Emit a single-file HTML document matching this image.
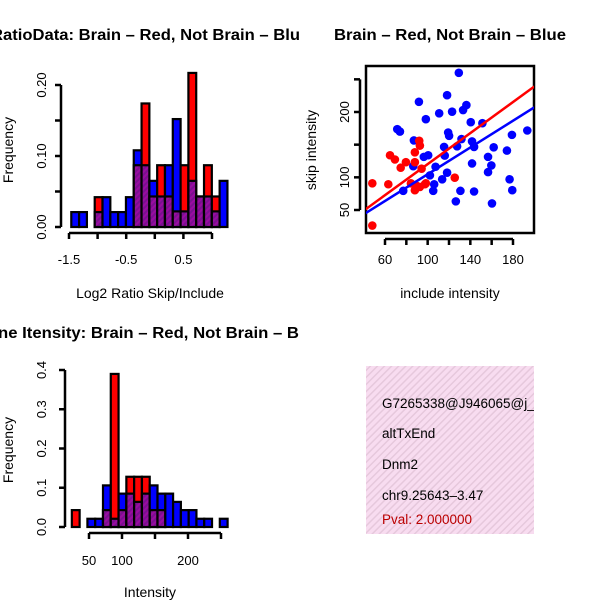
<!DOCTYPE html>
<html><head><meta charset="utf-8"><style>
html,body{margin:0;padding:0;background:#fff}
svg{display:block;font-family:"Liberation Sans",sans-serif}
</style></head><body>
<svg id="c" width="600" height="600" viewBox="0 0 600 600">
<defs>
<pattern id="hatch" width="4" height="4" patternUnits="userSpaceOnUse" patternTransform="rotate(45)">
<rect width="4" height="4" fill="#9a0ca0"/><rect width="2" height="4" fill="#7a1090"/>
</pattern>
<pattern id="pink" width="5" height="5" patternUnits="userSpaceOnUse" patternTransform="rotate(45)">
<rect width="5" height="5" fill="#f8dcf0"/><rect width="1.5" height="5" fill="#e6c8dc"/>
</pattern>
<clipPath id="clipS"><rect x="366" y="66" width="168" height="167"/></clipPath>
</defs>
<g id="root"></g>
</svg>
<script>
// ---- Panel 1: log2 ratio histogram ----
const ratioBinStart = -1.46;
const ratioBinWidth = 0.1365;
const ratioRed  = [0,0,0,0.042,0,0,0,0,0.087,0.174,0.043,0.087,0.043,0.022,0.087,0.217,0.043,0.087,0.043,0];
const ratioBlue = [0.021,0.021,0,0.021,0.042,0.021,0.021,0.042,0.108,0.087,0.065,0.043,0.087,0.152,0.022,0.065,0.043,0.043,0.022,0.065];
const ratioXTicks = [-1.5,-1.0,-0.5,0,0.5,1.0];
const ratioXLabels = ["-1.5","","-0.5","","0.5",""];
const ratioYTicks = [0,0.05,0.10,0.15,0.20];
const ratioYLabels = ["0.00","","0.10","","0.20"];
// ---- Panel 2: scatter ----
const blueX = [129.2,118.2,91.8,136.3,133.2,122.9,110.8,98.3,140.4,151.3,71.5,74,119.2,120.1,193.4,179,87.1,131.7,141.6,143.5,115.4,127.6,161.9,174.3,100.5,96.4,116,156.6,141.6,159.7,107.4,86.5,156.6,118.2,102.1,113.6,176.8,106.1,105.2,77.1,130.7,143.5,179.3,126.4,160.3];
const blueY = [260,225.7,215.6,210.6,203,200.5,198,189,184.4,182.9,173.8,170,168.6,163.6,171.7,165,156.5,158.6,155,146.5,146.5,147.5,146,140.9,133.8,131.3,133.3,131.3,121.2,118.2,116.2,117.1,108,107.1,103,97,97,89.4,79.3,79.3,79.3,78.3,80.3,63.2,60.1];
const redX = [48.1,48.1,63.1,64.7,69.3,74.7,79.6,92.1,92.7,88,88,94.3,84.3,89,92.7,97.4,88,125.4,98.3];
const redY = [90.9,26.2,89.4,133.8,127.3,114.7,123.2,156,148.5,138.3,123.2,113.2,90.9,87.9,85.3,89.4,80.3,99.5,90.9];
const fitRed = [1.4,1.188];   // intercept, slope
const fitBlue = [2.3,1.024];
const scXTicks = [50,60,80,100,120,140,160,180];
const scXLabels = ["","60","","100","","140","","180"];
const scYTicks = [50,100,150,200,250];
const scYLabels = ["50","100","","200",""];
// ---- Panel 3: intensity histogram ----
const intBinStart = 24;
const intBinWidth = 11.8;
const intRed  = [0.043,0,0,0,0.043,0.39,0.043,0.128,0.128,0.128,0.043,0.043,0,0,0,0,0,0,0,0];
const intBlue = [0,0,0.021,0.021,0.106,0.021,0.085,0.085,0.064,0.085,0.106,0.085,0.085,0.064,0.043,0.043,0.021,0.021,0,0.021];
const intXTicks = [50,100,150,200,250];
const intXLabels = ["50","100","","200",""];
const intYTicks = [0,0.1,0.2,0.3,0.4];
const intYLabels = ["0.0","0.1","0.2","0.3","0.4"];

const NS="http://www.w3.org/2000/svg";
const root=document.getElementById('root');
function mk(tag,attrs,parent,text){const e=document.createElementNS(NS,tag);for(const k in attrs)e.setAttribute(k,attrs[k]);if(text!==undefined)e.textContent=text;(parent||root).appendChild(e);return e;}
function lin(d0,d1,r0,r1){return v=>r0+(v-d0)*(r1-r0)/(d1-d0);}

function histogram(name,bx0,bw,reds,blues,xs,ys){
  const g=mk('g',{});
  
  
  for(let i=0;i<reds.length;i++){
    const r=reds[i],b=blues[i];
    const x0=xs(bx0+i*bw),x1=xs(bx0+(i+1)*bw);
    const mx=Math.max(r,b),mn=Math.min(r,b);
    if(mx>0){
      const e=mk('rect',{x:x0,y:ys(mx),width:x1-x0,height:ys(0)-ys(mx),fill:r>b?'#ff0000':'#0000ff',stroke:'#000','stroke-width':2.2},g);
      
      
    }
    if(mn>0){
      const e=mk('rect',{x:x0,y:ys(mn),width:x1-x0,height:ys(0)-ys(mn),fill:'url(#hatch)',stroke:'#000','stroke-width':2.2},g);
      
      
    }
  }
}
function xAxis(name,ticks,labels,xs,y,ly){
  const g=mk('g',{});
  
  
  mk('line',{x1:xs(ticks[0]),x2:xs(ticks[ticks.length-1]),y1:y,y2:y,stroke:'#000','stroke-width':2.5},g);
  ticks.forEach((t,i)=>{mk('line',{x1:xs(t),x2:xs(t),y1:y,y2:y+6,stroke:'#000','stroke-width':2.5},g);
    if(labels[i])mk('text',{x:xs(t),y:ly,'font-size':13,'text-anchor':'middle'},g,labels[i]);});
}
function yAxis(name,ticks,labels,ys,x,lx){
  const g=mk('g',{});
  
  
  mk('line',{x1:x,x2:x,y1:ys(ticks[0]),y2:ys(ticks[ticks.length-1]),stroke:'#000','stroke-width':2.5},g);
  ticks.forEach((t,i)=>{mk('line',{x1:x,x2:x-6,y1:ys(t),y2:ys(t),stroke:'#000','stroke-width':2.5},g);
    if(labels[i])mk('text',{x:lx,y:ys(t),'font-size':13,'text-anchor':'middle',transform:`rotate(-90 ${lx} ${ys(t)})`},g,labels[i]);});
}
function label(name,txt,x,y,opts){const e=mk('text',Object.assign({x:x,y:y,'font-size':14,'text-anchor':'middle'},opts||{}),root,txt);
  
  return e;}

// Panel 1
{const xs=lin(-1.5,1.0,69,212), ys=lin(0,0.2,227,85);
 histogram('ratio-histogram',ratioBinStart,ratioBinWidth,ratioRed,ratioBlue,xs,ys);
 xAxis('ratio-x-axis',ratioXTicks,ratioXLabels,xs,233,264);
 yAxis('ratio-y-axis',ratioYTicks,ratioYLabels,ys,61,46);
 label('ratio-title','RatioData: Brain – Red, Not Brain – Blu',-9,40,{'font-size':16,'font-weight':'bold','text-anchor':'start','textLength':309,'lengthAdjust':'spacingAndGlyphs'});
 label('ratio-x-title','Log2 Ratio Skip/Include',150,298);
 label('ratio-y-title','Frequency',13,150,{transform:'rotate(-90 13 150)'});
}
// Panel 2
{const xs=lin(60,180,385,513), ys=lin(50,200,210,112);
 const box=mk('rect',{x:366,y:66,width:168,height:167,fill:'none',stroke:'#000','stroke-width':2.5});
 
 
 xAxis('scatter-x-axis',scXTicks.slice(1),scXLabels.slice(1),xs,239,264);
 yAxis('scatter-y-axis',scYTicks,scYLabels,ys,360,349);
 const g=mk('g',{'clip-path':'url(#clipS)'});
 
 
 blueX.forEach((v,i)=>{const c=mk('circle',{cx:xs(v),cy:ys(blueY[i]),r:4.3,fill:'#0000ff'},g);
   
   });
 redX.forEach((v,i)=>{const c=mk('circle',{cx:xs(v),cy:ys(redY[i]),r:4.3,fill:'#ff0000'},g);
   
   });
 const bl=mk('line',{x1:xs(40),y1:ys(fitBlue[0]+fitBlue[1]*40),x2:xs(200),y2:ys(fitBlue[0]+fitBlue[1]*200),stroke:'#0000ff','stroke-width':2.5},g);
 
 
 const rl=mk('line',{x1:xs(40),y1:ys(fitRed[0]+fitRed[1]*40),x2:xs(200),y2:ys(fitRed[0]+fitRed[1]*200),stroke:'#ff0000','stroke-width':2.5},g);
 
 
 label('scatter-title','Brain – Red, Not Brain – Blue',450,40,{'font-size':16,'font-weight':'bold','textLength':232,'lengthAdjust':'spacingAndGlyphs'});
 label('scatter-x-title','include intensity',450,298);
 label('scatter-y-title','skip intensity',316,150,{transform:'rotate(-90 316 150)'});
}
// Panel 3
{const xs=lin(50,250,89,221), ys=lin(0,0.4,527,370);
 histogram('intensity-histogram',intBinStart,intBinWidth,intRed,intBlue,xs,ys);
 xAxis('intensity-x-axis',intXTicks,intXLabels,xs,533,565);
 yAxis('intensity-y-axis',intYTicks,intYLabels,ys,65,46);
 label('intensity-title','ne Itensity: Brain – Red, Not Brain – B',-2,338,{'font-size':16,'font-weight':'bold','text-anchor':'start','textLength':301,'lengthAdjust':'spacingAndGlyphs'});
 label('intensity-x-title','Intensity',150,597);
 label('intensity-y-title','Frequency',13,450,{transform:'rotate(-90 13 450)'});
}
// Panel 4 info box
{const r=mk('rect',{x:366,y:366,width:168,height:168,fill:'url(#pink)'});
 
 
 label('event-id','G7265338@J946065@j_',382,408,{'text-anchor':'start','font-size':13.5});
 label('event-type','altTxEnd',382,438,{'text-anchor':'start','font-size':13.5});
 label('gene-name','Dnm2',382,469,{'text-anchor':'start','font-size':13.5});
 label('location','chr9.25643–3.47',382,500,{'text-anchor':'start','font-size':13.5});
 label('pval','Pval: 2.000000',382,524,{'text-anchor':'start','font-size':13.5,fill:'#bb0000'});
 mk('rect',{x:534,y:360,width:66,height:180,fill:'#fff'});
}
</script>
</body></html>
